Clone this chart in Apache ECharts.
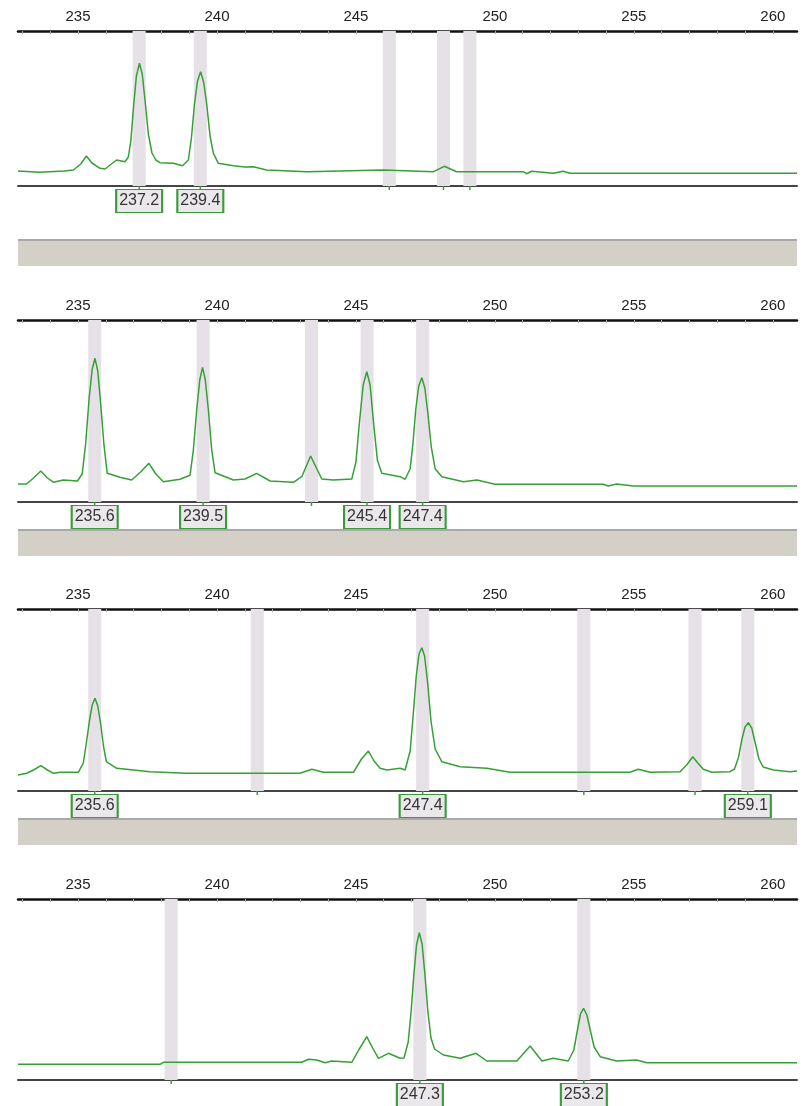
<!DOCTYPE html>
<html>
<head>
<meta charset="utf-8">
<script src="https://cdn.jsdelivr.net/npm/echarts@6/dist/echarts.min.js"></script>
<style>
  html, body { margin: 0; padding: 0; background: #fff; }
  #chart { width: 803px; height: 1106px; }
</style>
</head>
<body>
<div id="chart"></div>
<script>
// size axis (bp) shown on every panel
const sizeMin = 232.84
const sizeMax = 260.87
const tickLabels = [235, 240, 245, 250, 255, 260]
const minorTicks = [233, 234, 235, 236, 237, 238, 239, 240, 241, 242, 243, 244, 245, 246, 247,
  248, 249, 250, 251, 252, 253, 254, 255, 256, 257, 258, 259, 260]

// panel 1
const trace1 = [[232.84, 15], [233.6, 13.7], [234.5, 15], [234.83, 16], [235.1, 22], [235.3, 30], [235.5, 23],
  [235.79, 17.7], [235.97, 17], [236.2, 22], [236.39, 26], [236.69, 24.3], [236.81, 29], [236.9, 45],
  [237.0, 80], [237.1, 110], [237.21, 122.7], [237.31, 112], [237.41, 86], [237.53, 52], [237.66, 33],
  [237.8, 26], [237.95, 23.3], [238.43, 22.7], [238.76, 20.3], [238.97, 26], [239.08, 48], [239.19, 82],
  [239.3, 105], [239.41, 114.3], [239.52, 104], [239.63, 82], [239.75, 50], [239.87, 32.7], [240.05, 22.7],
  [240.59, 20.3], [241.0, 19], [241.31, 19.3], [241.79, 16], [243.23, 14.3], [245.99, 16], [247.79, 14.3],
  [248.18, 19.7], [248.62, 14.3], [251.02, 14.3], [251.14, 12.3], [251.32, 14.7], [252.1, 12.7],
  [252.46, 14.7], [252.7, 12.7], [260.87, 12.7]]
const bins1 = [237.2, 239.4, 246.2, 248.15, 249.1]
const calls1 = [237.2, 239.4]

// panel 2
const trace2 = [[232.84, 18], [233.15, 18], [233.4, 24], [233.66, 31], [233.9, 24], [234.12, 19.7], [234.47, 22],
  [234.98, 21], [235.15, 28], [235.28, 60], [235.4, 104], [235.51, 133], [235.61, 143.7], [235.71, 131],
  [235.81, 100], [235.93, 58], [236.05, 28.7], [236.51, 24.7], [236.93, 22], [237.25, 30], [237.55, 38.7],
  [237.8, 28], [238.07, 20.3], [238.67, 22.7], [239.03, 26.7], [239.15, 52], [239.27, 92], [239.38, 122],
  [239.48, 134.7], [239.58, 122], [239.69, 92], [239.81, 52], [239.93, 29.3], [240.59, 22], [241.01, 23],
  [241.43, 28.7], [241.91, 21], [242.75, 19.7], [243.05, 25.3], [243.37, 46], [243.77, 23], [244.19, 22],
  [244.85, 23], [245.0, 40], [245.12, 78], [245.26, 117], [245.39, 130.3], [245.51, 117], [245.63, 80],
  [245.77, 42], [245.93, 28.7], [246.59, 25.3], [246.77, 22.7], [246.95, 33.3], [247.05, 58], [247.15, 92],
  [247.26, 116], [247.37, 124.3], [247.48, 114], [247.59, 88], [247.71, 55], [247.85, 33.3], [248.09, 25.3],
  [248.87, 20.3], [249.35, 22], [250.0, 17.7], [253.9, 17.7], [254.08, 16], [254.38, 18], [254.98, 16],
  [260.87, 16]]
const bins2 = [235.6, 239.5, 243.4, 245.4, 247.4]
const calls2 = [235.6, 239.5, 245.4, 247.4]

// panel 3
const trace3 = [[232.84, 16], [233.15, 17.7], [233.4, 21], [233.66, 25.3], [233.9, 21], [234.12, 17.7],
  [234.35, 18.7], [235.01, 18.7], [235.19, 28], [235.3, 48], [235.41, 70], [235.51, 86], [235.61, 92.7],
  [235.71, 85], [235.81, 68], [235.92, 44], [236.02, 29.3], [236.39, 22.7], [237.59, 19.3], [238.91, 17.7],
  [242.99, 17.7], [243.41, 21.7], [243.83, 18.7], [244.91, 18.7], [245.2, 32], [245.45, 40], [245.65, 30],
  [245.87, 22.7], [246.11, 21], [246.59, 22.7], [246.77, 21], [246.95, 40], [247.06, 76], [247.17, 115],
  [247.27, 137], [247.37, 143.3], [247.47, 135], [247.58, 108], [247.7, 70], [247.85, 42], [248.09, 29.3],
  [248.75, 24.3], [249.71, 22.7], [250.55, 18.7], [254.86, 18.7], [255.16, 21.7], [255.58, 18.7],
  [256.66, 19.3], [256.9, 26], [257.12, 34.3], [257.3, 28], [257.5, 21.7], [257.8, 18.7], [258.46, 19.3],
  [258.62, 22], [258.76, 33], [258.89, 52], [259.0, 64], [259.12, 68.3], [259.24, 63], [259.36, 49],
  [259.5, 32], [259.65, 24], [260.02, 21], [260.62, 19.3], [260.87, 20]]
const bins3 = [235.6, 241.45, 247.4, 253.2, 257.2, 259.1]
const calls3 = [235.6, 247.4, 259.1]

// panel 4
const trace4 = [[232.84, 15.7], [237.95, 15.7], [238.07, 17.7], [243.05, 17.7], [243.29, 20.7], [243.59, 20],
  [243.89, 17.3], [244.13, 19], [244.55, 18.3], [244.85, 17.7], [245.1, 30], [245.39, 43.3], [245.6, 32],
  [245.81, 21.7], [246.17, 26.7], [246.59, 21.7], [246.73, 22], [246.88, 38], [246.99, 70], [247.08, 104],
  [247.18, 135], [247.28, 147.3], [247.38, 136], [247.48, 106], [247.59, 68], [247.7, 42], [247.83, 31],
  [248.15, 25], [248.75, 21.7], [249.32, 26.7], [249.71, 19], [250.79, 19], [251.27, 34], [251.69, 19],
  [252.1, 21.7], [252.64, 19], [252.84, 30], [252.97, 50], [253.08, 66], [253.19, 71.7], [253.31, 65],
  [253.43, 50], [253.57, 33], [253.79, 23.3], [254.38, 19], [255.1, 20], [255.46, 17.3], [260.87, 17.3]]
const bins4 = [238.35, 247.3, 253.2]
const calls4 = [247.3, 253.2]

const panels = [
  { trace: trace1, bins: bins1, calls: calls1, top: 31, height: 155 },
  { trace: trace2, bins: bins2, calls: calls2, top: 320, height: 182 },
  { trace: trace3, bins: bins3, calls: calls3, top: 609, height: 182 },
  { trace: trace4, bins: bins4, calls: calls4, top: 899, height: 181 },
]
// grey strips between panels
const separators = [240, 530, 819]

const GREEN = '#35a035'
const FONT = '"Liberation Sans", Arial, sans-serif'
const BIN_HALF = 0.235

const grid = []
const xAxis = []
const yAxis = []
const series = []

panels.forEach((p, i) => {
  grid.push({ left: 18, right: 6, top: p.top, height: p.height })

  // top axis with size labels
  xAxis.push({
    type: 'value', gridIndex: i, position: 'top', min: sizeMin, max: sizeMax,
    axisLine: { onZero: false, lineStyle: { color: '#111', width: 2.5 } },
    axisTick: { show: true, inside: true, length: 3, customValues: minorTicks, lineStyle: { color: '#aaa' } },
    axisLabel: { customValues: tickLabels, margin: 7, fontSize: 15, color: '#222', fontFamily: FONT },
    splitLine: { show: false },
  })
  // bottom baseline
  xAxis.push({
    type: 'value', gridIndex: i, position: 'bottom', min: sizeMin, max: sizeMax,
    axisLine: { onZero: false, lineStyle: { color: '#444', width: 2 } },
    axisTick: { show: false },
    axisLabel: { show: false },
    splitLine: { show: false },
  })
  yAxis.push({ type: 'value', gridIndex: i, min: 0, max: p.height, show: false })

  const pins = p.bins.map(b => ({
    coord: [b, 0], symbol: 'rect', symbolSize: [1.5, 4], symbolOffset: [0, 2],
    itemStyle: { color: GREEN, borderWidth: 0 }, label: { show: false },
  }))
  const boxes = p.calls.map(c => ({
    name: c.toFixed(1), coord: [c, 0], symbol: 'rect', symbolSize: [46, 23], symbolOffset: [0, 15],
  }))

  series.push({
    type: 'line', xAxisIndex: i * 2, yAxisIndex: i, data: p.trace,
    showSymbol: false, silent: true,
    lineStyle: { color: GREEN, width: 1.5 },
    markArea: {
      silent: true,
      itemStyle: { color: '#e6e1e6' },
      data: p.bins.map(b => [{ xAxis: b - BIN_HALF }, { xAxis: b + BIN_HALF }]),
    },
    markPoint: {
      silent: true,
      itemStyle: { color: '#ebe8ec', borderColor: '#3a9a3a', borderWidth: 1.5 },
      label: { show: true, position: 'inside', formatter: '{b}', fontSize: 16, color: '#333', fontFamily: FONT },
      data: pins.concat(boxes),
    },
  })
})

const graphic = []
separators.forEach(y => {
  graphic.push({ type: 'rect', left: 18, top: y, shape: { width: 779, height: 26 }, style: { fill: '#d4d0c8' }, silent: true })
  graphic.push({ type: 'rect', left: 18, top: y - 1, shape: { width: 779, height: 2 }, style: { fill: '#a9a9a9' }, silent: true })
})

const chart = echarts.init(document.getElementById('chart'))
chart.setOption({
  animation: false,
  backgroundColor: '#fff',
  grid, xAxis, yAxis, series, graphic,
})
</script>
</body>
</html>
